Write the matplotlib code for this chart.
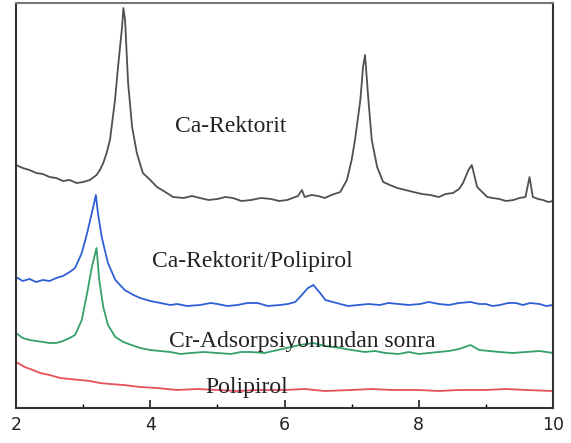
import matplotlib
matplotlib.use("Agg")
import matplotlib.pyplot as plt
from matplotlib.ticker import MultipleLocator

# 2-theta positions and intensities (arbitrary units, stacked)
ca_rek_x = [2.0, 2.1, 2.2, 2.3, 2.4, 2.5, 2.6, 2.7, 2.8, 2.9, 3.0, 3.1, 3.2, 3.25, 3.3, 3.35, 3.4,
            3.475, 3.52, 3.58, 3.6, 3.625, 3.67, 3.73, 3.8, 3.89, 4.0, 4.1, 4.2, 4.34, 4.5, 4.62,
            4.74, 4.87, 5.0, 5.12, 5.23, 5.36, 5.5, 5.65, 5.8, 5.92, 6.04, 6.2, 6.26, 6.3, 6.4,
            6.5, 6.6, 6.7, 6.83, 6.93, 7.0, 7.05, 7.13, 7.17, 7.2, 7.25, 7.3, 7.38, 7.47, 7.57,
            7.68, 7.8, 7.92, 8.05, 8.17, 8.3, 8.4, 8.51, 8.6, 8.66, 8.74, 8.79, 8.87, 9.02, 9.1,
            9.2, 9.3, 9.41, 9.5, 9.59, 9.65, 9.7, 9.78, 9.85, 9.93, 10.0]
ca_rek_y = [243, 240, 238, 235, 234, 231, 230, 227, 228, 225, 226, 228, 233, 238, 245, 255, 268,
            308, 341, 381, 400, 388, 325, 281, 255, 235, 228, 221, 217, 211, 210, 212,
            210, 208, 209, 211, 210, 207, 208, 210, 209, 207, 208, 212, 218, 211, 213,
            212, 210, 213, 216, 228, 248, 268, 308, 341, 353, 308, 268, 241, 226, 223,
            220, 218, 216, 214, 213, 211, 214, 215, 219, 225, 238, 243, 221, 211, 210,
            209, 207, 208, 210, 211, 231, 211, 209, 208, 206, 207]

rek_ppy_x = [2.0, 2.1, 2.2, 2.3, 2.4, 2.5, 2.6, 2.7, 2.8, 2.88, 2.98, 3.06, 3.13, 3.19, 3.22,
             3.28, 3.37, 3.48, 3.62, 3.75, 3.85, 4.0, 4.15, 4.3, 4.4, 4.55, 4.74, 4.9, 5.0, 5.15,
             5.3, 5.45, 5.6, 5.75, 5.93, 6.05, 6.16, 6.23, 6.35, 6.43, 6.53, 6.61, 6.72, 6.83,
             6.95, 7.1, 7.25, 7.42, 7.55, 7.7, 7.85, 8.02, 8.15, 8.3, 8.45, 8.6, 8.77, 8.9, 9.0,
             9.1, 9.21, 9.33, 9.45, 9.55, 9.66, 9.8, 9.9, 10.0]
rek_ppy_y = [131, 127, 129, 126, 128, 127, 130, 132, 136, 140, 155, 175, 195, 213, 195,
             170, 145, 128, 118, 113, 110, 107, 105, 103, 104, 102, 103, 105, 104, 102,
             103, 105, 105, 102, 103, 104, 106, 111, 120, 123, 115, 108, 106, 104,
             102, 103, 104, 103, 105, 104, 103, 104, 106, 104, 103, 105, 106, 104, 104,
             102, 103, 105, 105, 103, 105, 104, 102, 103]

cr_ads_x = [2.0, 2.1, 2.2, 2.3, 2.4, 2.5, 2.6, 2.7, 2.8, 2.88, 2.98, 3.06, 3.13, 3.2, 3.24, 3.3,
            3.37, 3.48, 3.6, 3.72, 3.85, 4.0, 4.15, 4.3, 4.45, 4.6, 4.8, 5.0, 5.2, 5.35, 5.5,
            5.7, 5.9, 6.1, 6.23, 6.43, 6.6, 6.83, 7.0, 7.2, 7.35, 7.5, 7.7, 7.85, 8.0, 8.15,
            8.3, 8.45, 8.6, 8.77, 8.9, 9.05, 9.2, 9.4, 9.6, 9.8, 10.0]
cr_ads_y = [75, 70, 68, 67, 66, 65, 65, 67, 70, 73, 88, 115, 141, 160, 128, 101,
            83, 71, 66, 63, 60, 58, 57, 56, 54, 55, 56, 55, 54, 56, 56,
            55, 58, 61, 63, 65, 62, 60, 58, 56, 57, 55, 54, 56, 54, 55,
            56, 57, 59, 63, 58, 57, 56, 55, 56, 57, 55]

ppy_x = [2.0, 2.13, 2.25, 2.36, 2.5, 2.66, 2.8, 2.95, 3.1, 3.25, 3.4, 3.6, 3.85, 4.1, 4.4, 4.7,
         5.0, 5.3, 5.6, 6.0, 6.3, 6.6, 7.0, 7.3, 7.6, 8.0, 8.3, 8.6, 9.0, 9.3, 9.6, 10.0]
ppy_y = [46, 41, 38, 35, 33, 30, 29, 28, 27, 25, 24, 23, 21, 20, 18, 19,
         18, 17, 18, 18, 19, 17, 18, 19, 18, 18, 17, 18, 18, 19, 18, 17]

series = [
    (ca_rek_x, ca_rek_y, "#505050"),
    (rek_ppy_x, rek_ppy_y, "#2f5fd6"),
    (cr_ads_x, cr_ads_y, "#35a06a"),
    (ppy_x, ppy_y, "#e8505a"),
]

labels = [
    ("Ca-Rektorit", 5.20, 281),
    ("Ca-Rektorit/Polipirol", 5.52, 146),
    ("Cr-Adsorpsiyonundan sonra", 6.26, 66),
    ("Polipirol", 5.43, 21),
]

x_ticks = [2, 4, 6, 8, 10]
x_tick_labels = ["2", "4", "6", "8", "10"]

fig = plt.figure(figsize=(5.71, 4.43), dpi=100)
ax = fig.add_axes([16 / 571, 35 / 443, 537 / 571, 405 / 443])

for xs, ys, c in series:
    ax.plot(xs, ys, color=c, lw=1.3)

for text, tx, ty in labels:
    ax.text(tx, ty, text, ha="center", va="center", fontsize=17,
            family="Liberation Serif", color="#222222")

ax.set_xlim(2, 10)
ax.set_ylim(0, 405)
ax.set_xticks(x_ticks)
ax.set_xticklabels(x_tick_labels)
ax.xaxis.set_minor_locator(MultipleLocator(1))
ax.set_yticks([])
ax.tick_params(axis="x", which="major", direction="in", length=6, width=1.2,
               labelsize=12.5, pad=6, colors="#222222")
ax.tick_params(axis="x", which="minor", direction="in", length=3, width=1.0)
for side in ["left", "right", "bottom"]:
    ax.spines[side].set_linewidth(1.5)
    ax.spines[side].set_color("#333333")
ax.spines["top"].set_linewidth(1.5)
ax.spines["top"].set_color("#777777")

fig.savefig("out.png", dpi=100)
